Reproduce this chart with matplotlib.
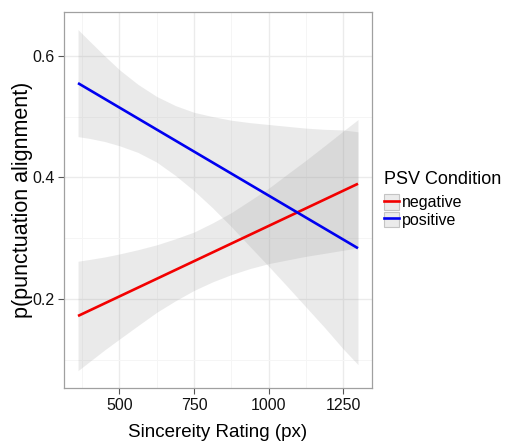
import matplotlib
matplotlib.use("Agg")
import matplotlib.pyplot as plt
from matplotlib.patches import Patch
from matplotlib.lines import Line2D
from matplotlib.legend_handler import HandlerTuple
from matplotlib.ticker import FixedLocator

# ---- data ----
x = [361, 400, 450, 500, 562, 625, 688, 750, 812, 875, 938, 1000, 1062, 1125, 1188, 1250, 1300]

neg_hi = [0.262, 0.265, 0.269, 0.274, 0.281, 0.289, 0.299, 0.310, 0.325, 0.342, 0.362, 0.382, 0.405, 0.428, 0.452, 0.476, 0.495]
neg_lo = [0.082, 0.097, 0.116, 0.134, 0.156, 0.178, 0.197, 0.214, 0.228, 0.240, 0.250, 0.258, 0.264, 0.270, 0.275, 0.280, 0.284]
pos_hi = [0.643, 0.624, 0.600, 0.577, 0.553, 0.533, 0.518, 0.507, 0.500, 0.494, 0.490, 0.487, 0.484, 0.481, 0.479, 0.478, 0.475]
pos_lo = [0.467, 0.464, 0.459, 0.452, 0.441, 0.425, 0.403, 0.378, 0.350, 0.319, 0.286, 0.254, 0.221, 0.187, 0.153, 0.118, 0.092]

fit_x = [361, 1300]
neg_fit = [0.172, 0.3895]
pos_fit = [0.555, 0.2834]

groups = ["negative", "positive"]
colors = ["#f20000", "#0000f0"]
legend_title = "PSV Condition"

xticks = [500, 750, 1000, 1250]
yticks = [0.2, 0.4, 0.6]

FONT = ["Liberation Sans", "DejaVu Sans"]

fig = plt.figure(figsize=(5.06, 4.43), dpi=100)
ax = fig.add_axes([64 / 506, 1 - 388 / 443, (372 - 64) / 506, (388 - 12) / 443])
ax.set_facecolor("white")

# grid
ax.xaxis.set_minor_locator(FixedLocator([375, 625, 875, 1125]))
ax.yaxis.set_minor_locator(FixedLocator([0.1, 0.3, 0.5]))
ax.grid(True, which="major", color="#ebebeb", linewidth=1.0)
ax.grid(True, which="minor", color="#f5f5f5", linewidth=0.7)
ax.set_axisbelow(True)

ribbon = "#999999"
for lo, hi in [(neg_lo, neg_hi), (pos_lo, pos_hi)]:
    ax.fill_between(x, lo, hi, color=ribbon, alpha=0.2, linewidth=0)
ax.plot(fit_x, neg_fit, color=colors[0], linewidth=1.9, solid_capstyle="butt")
ax.plot(fit_x, pos_fit, color=colors[1], linewidth=1.9, solid_capstyle="butt")

ax.set_xlim(314, 1347)
ax.set_ylim(0.0535, 0.672)
ax.set_xticks(xticks)
ax.set_yticks(yticks)
ax.set_xticklabels([str(v) for v in xticks], family=FONT, fontsize=11.5)
ax.set_yticklabels([f"{v:.1f}" for v in yticks], family=FONT, fontsize=11.5)
ax.tick_params(which="major", length=4, width=0.8, color="#555555", labelcolor="#111111", pad=3)
ax.tick_params(which="minor", length=0)

for s in ax.spines.values():
    s.set_color("#a0a0a0")
    s.set_linewidth(0.9)

ax.set_xlabel("Sincereity Rating (px)", family=FONT, fontsize=13.5, labelpad=8)
ax.set_ylabel("p(punctuation alignment)", family=FONT, fontsize=15.5)
ax.yaxis.set_label_coords((33 - 64) / 308, 0.5)

# legend
fig.text(384 / 506, 1 - 179 / 443, legend_title, family=FONT, fontsize=13,
         ha="left", va="center")
handles = []
for c in colors:
    handles.append((Patch(facecolor="#ebebeb", edgecolor="#c4c4c4", linewidth=0.8),
                    Line2D([0], [0], color=c, linewidth=1.9)))
leg = fig.legend(handles, groups, handler_map={tuple: HandlerTuple(ndivide=1, pad=0)},
                 loc="upper left", bbox_to_anchor=(384 / 506, 1 - 194 / 443),
                 frameon=False,
                 prop={"family": FONT, "size": 11.5},
                 handlelength=0.95, handleheight=1.15, handletextpad=0.15,
                 labelspacing=0.08, borderpad=0.0, borderaxespad=0.0)

fig.savefig("out.png", dpi=100, facecolor="white")
